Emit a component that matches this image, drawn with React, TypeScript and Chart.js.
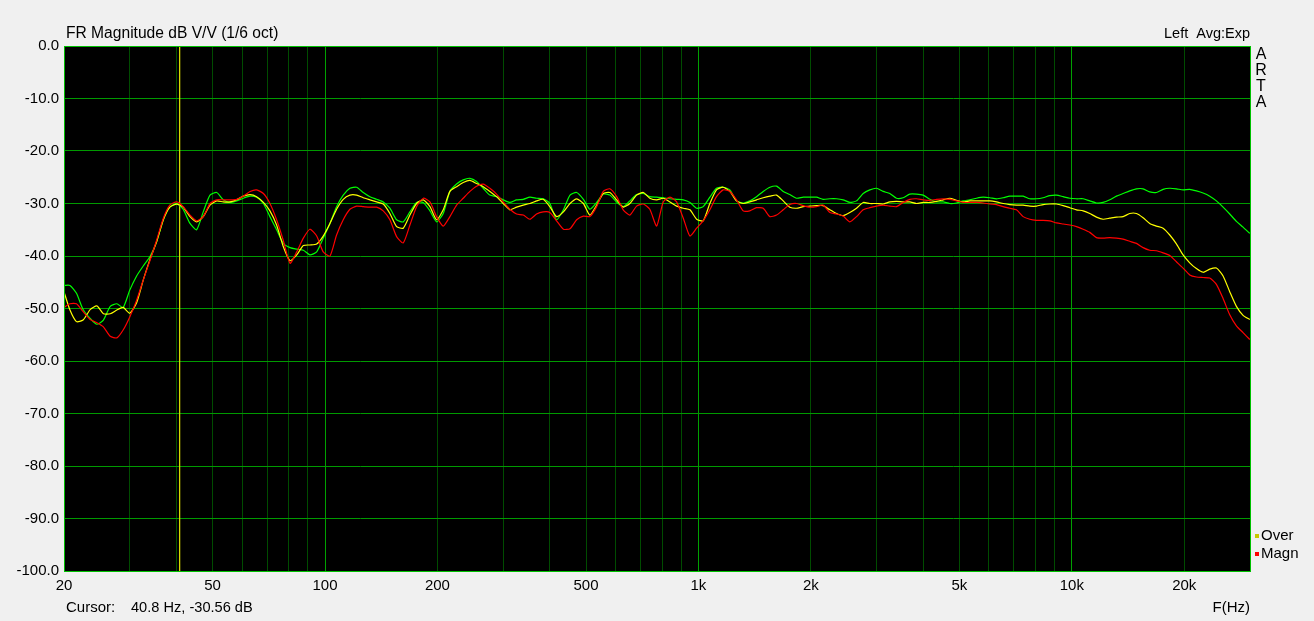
import React, { useEffect, useRef } from "react";
import { Chart, registerables } from "chart.js";

Chart.register(...registerables);

// Frequencies (Hz) shared by the three traces
const freqs = [
  20, 20.75, 21.6, 22.5, 23.5, 24.5, 25.5, 26.6, 27.7, 28.8, 30.0, 31.3, 32.6, 34.0, 35.4, 36.9, 38.4, 40.1,
  41.7, 43.5, 45.3, 47.2, 49.2, 51.3, 53.4, 55.7, 58.0, 60.4, 63.0, 65.6, 68.4, 71.2, 74.2, 77.3, 80.6, 84.0,
  87.5, 91.1, 95.0, 98.9, 103.1, 107.4, 111.9, 116.6, 121.5, 126.6, 131.9, 137.5, 143.2, 149.2, 155.5, 162.0,
  168.8, 175.9, 183.3, 191.0, 199.0, 207.3, 216.0, 225.1, 234.5, 244.4, 254.6, 265.3, 276.4, 288.0, 300.1,
  312.7, 325.8, 339.5, 353.7, 368.6,
  384, 400, 417, 435, 453, 472, 492, 512, 534, 556, 579, 604, 629, 655, 683, 712, 741, 773, 805, 839, 874,
  911, 949, 989, 1030, 1073, 1118, 1165, 1214, 1265, 1318, 1373, 1431, 1491, 1554, 1619,
  1687, 1757, 1831, 1908, 1988, 2071, 2158, 2249, 2343, 2441, 2544, 2651, 2762, 2878, 2998, 3124, 3255, 3392,
  3534, 3682, 3837, 3998, 4166, 4341, 4523, 4713, 4910, 5117, 5331, 5555, 5788, 6031, 6284, 6547, 6822, 7108,
  7406, 7717, 8040, 8378, 8729, 9096, 9476, 9875, 10290, 10722, 11170, 11640, 12128, 12638, 13166, 13720,
  14292, 14894, 15518, 16168, 16848, 17554, 18292, 19056, 19858, 20688, 21558, 22460, 23406, 24386, 25412,
  26476, 27588, 28744, 29954,
];

// Green trace (stored overlay)
const storedDb = [
  -45.6, -45.6, -47.1, -50.2, -51.9, -53.0, -52.2, -49.6, -49.1, -49.8, -46.5, -43.8, -41.9, -40.1, -37.3, -33.1, -30.7, -30.0,
  -31.1, -33.8, -35.0, -31.6, -28.4, -27.9, -29.3, -29.8, -29.5, -29.0, -28.6, -28.8, -30.0, -32.5, -35.0, -37.6, -38.4, -38.7,
  -38.9, -39.8, -39.2, -36.6, -33.8, -30.6, -28.4, -27.1, -26.9, -27.9, -28.7, -29.2, -29.7, -30.9, -33.1, -33.5,
  -31.6, -29.8, -29.8, -31.4, -33.5, -31.9, -27.7, -26.3, -25.5, -25.2, -25.8, -27.1, -28.4, -28.7, -29.3,
  -29.8, -29.3, -29.2, -28.8, -29.0,
  -29.1, -30.0, -33.1, -31.2, -28.4, -27.9, -29.2, -31.1, -29.8, -28.2, -28.4, -29.7, -30.6, -29.5, -28.3, -28.1, -28.7, -28.8, -28.9, -29.1, -29.2,
  -29.3, -29.8, -30.9, -30.6, -28.8, -27.1, -26.9, -27.4, -29.5, -29.9, -29.5, -28.7, -27.7, -26.9, -26.7,
  -27.7, -28.3, -29.0, -28.8, -28.8, -28.8, -29.2, -29.1, -29.1, -29.3, -29.8, -29.5, -28.1, -27.4, -27.1, -27.7, -28.1, -29.0,
  -28.9, -28.2, -28.2, -28.4, -29.2, -29.7, -29.7, -30.0, -29.9, -29.5, -29.3, -29.0, -28.8, -28.9, -29.1, -28.9, -28.6, -28.6,
  -28.6, -29.1, -29.1, -28.9, -28.5, -28.4, -28.7, -29.0, -29.1, -29.1, -29.5, -29.9, -29.8, -29.3, -28.6, -28.1,
  -27.6, -27.2, -27.2, -27.8, -27.9, -27.3, -27.1, -27.2, -27.4, -27.3, -27.6, -28.0, -28.6, -29.5, -30.7,
  -32.0, -33.4, -34.5, -35.7,
];

// Yellow trace ("Over")
const overDb = [
  -46.8, -50.3, -52.5, -52.2, -50.2, -49.5, -51.0, -51.0, -50.3, -49.8, -50.9, -48.9, -44.6, -40.6, -37.3, -33.1, -30.7, -30.1,
  -30.7, -32.5, -33.5, -32.5, -30.3, -29.5, -29.7, -29.7, -29.3, -28.6, -28.3, -28.7, -29.8, -31.4, -34.1, -38.2, -40.9, -39.8,
  -38.0, -37.9, -37.7, -36.2, -33.8, -31.1, -29.2, -28.4, -28.4, -28.9, -29.3, -29.7, -30.1, -31.9, -34.4, -34.7,
  -32.2, -30.0, -29.3, -30.6, -33.1, -31.2, -27.7, -26.8, -26.0, -25.6, -26.2, -26.8, -27.7, -28.7, -30.0,
  -31.2, -30.7, -30.3, -30.0, -29.5,
  -29.2, -30.6, -32.5, -31.6, -30.0, -29.1, -30.0, -32.2, -30.3, -28.1, -27.9, -29.3, -30.7, -30.0, -28.4, -27.9, -29.0, -29.3, -29.0, -29.7, -30.5,
  -30.9, -31.2, -33.0, -33.3, -30.0, -27.4, -26.9, -27.7, -29.5, -30.0, -29.7, -29.3, -28.9, -28.6, -28.4,
  -29.5, -30.7, -30.9, -30.6, -30.5, -30.4, -30.4, -31.2, -31.9, -32.3, -31.7, -30.9, -29.8, -30.0, -30.0, -30.1, -29.7, -29.6,
  -29.7, -29.7, -30.0, -29.8, -29.8, -29.6, -29.3, -29.0, -29.4, -29.7, -29.5, -29.5, -29.5, -29.5, -29.7, -30.0, -30.2, -30.3,
  -30.3, -30.5, -30.5, -30.2, -30.1, -30.1, -30.4, -30.8, -31.2, -31.4, -31.9, -32.6, -33.0, -32.8, -32.6, -32.5,
  -31.9, -31.9, -32.7, -33.8, -34.3, -34.7, -36.0, -37.7, -39.8, -41.3, -42.4, -43.1, -42.5, -42.3, -43.8,
  -46.8, -49.6, -51.3, -52.1,
];

// Red trace ("Magn")
const magnDb = [
  -49.8, -49.1, -49.1, -50.6, -52.1, -52.7, -53.5, -55.3, -55.6, -54.1, -51.6, -48.4, -44.6, -40.8, -37.0, -32.8, -30.3, -29.7,
  -30.6, -32.2, -33.3, -32.5, -30.0, -29.3, -29.3, -29.3, -29.2, -28.6, -27.7, -27.4, -28.1, -30.0, -33.1, -37.0, -41.4, -39.2,
  -36.6, -34.9, -36.2, -39.2, -40.0, -36.0, -33.1, -31.1, -30.5, -30.6, -30.7, -30.7, -31.4, -33.1, -36.3, -37.5,
  -34.1, -30.6, -29.0, -29.7, -32.5, -34.3, -32.5, -30.3, -29.0, -27.7, -26.7, -26.3, -27.1, -28.2, -29.7,
  -31.1, -32.0, -32.2, -33.0, -32.0,
  -31.6, -31.7, -33.3, -34.9, -34.8, -33.1, -32.4, -32.5, -30.6, -27.7, -27.2, -28.7, -31.2, -32.2, -30.5, -30.1, -31.1, -34.3, -29.7, -28.8, -29.7,
  -32.8, -36.2, -34.7, -33.3, -31.2, -28.7, -27.4, -27.7, -29.3, -31.4, -31.4, -30.8, -30.9, -32.5, -32.2,
  -31.2, -30.2, -30.0, -30.4, -30.7, -30.6, -30.3, -31.7, -32.0, -32.4, -33.5, -32.5, -31.2, -30.8, -30.5, -30.3, -30.5, -30.6,
  -29.8, -29.2, -29.1, -29.3, -29.4, -29.2, -29.1, -29.2, -29.5, -29.8, -29.8, -29.8, -29.9, -30.1, -30.2, -30.6, -30.9, -31.2,
  -32.5, -33.0, -33.2, -33.2, -33.3, -33.7, -33.9, -34.1, -34.4, -34.9, -35.5, -36.5, -36.6, -36.5, -36.6, -36.8,
  -37.2, -37.6, -38.4, -38.9, -39.0, -39.4, -39.9, -41.1, -42.3, -43.6, -44.0, -44.1, -44.2, -45.4, -48.1,
  -51.2, -53.3, -54.6, -55.9,
];

const gridFreqs = [
  20, 30, 40, 50, 60, 70, 80, 90, 100, 200, 300, 400, 500, 600, 700, 800, 900, 1000,
  2000, 3000, 4000, 5000, 6000, 7000, 8000, 9000, 10000, 20000, 30000,
];
const labeledFreqs = [20, 50, 100, 200, 500, 1000, 2000, 5000, 10000, 20000];
const majorFreqs = [100, 1000, 10000];
const xMin = 20;
const xMax = 30000;
const yMin = -100;
const yMax = 0;
const yStep = 10;
const cursorFreq = 40.8;
const cursorDb = -30.56;
const titleText = "FR Magnitude dB V/V (1/6 oct)";
const statusText = "Left  Avg:Exp";
const brandLetters = ["A", "R", "T", "A"];
const legendLabels = ["Over", "Magn"];
const legendColors = ["#c8c800", "#ff0000"];
const xAxisTitle = "F(Hz)";

const FONT = '"Liberation Sans", Arial, sans-serif';

const artaPlugin = {
  id: "artaDecor",
  beforeDraw(chart: any) {
    const { ctx, chartArea: a, width, height } = chart;
    ctx.save();
    ctx.fillStyle = "#f0f0f0";
    ctx.fillRect(0, 0, width, height);
    ctx.fillStyle = "#000000";
    ctx.fillRect(a.left, a.top, a.right - a.left, a.bottom - a.top);
    ctx.restore();
  },
  afterDraw(chart: any) {
    const { ctx, chartArea: a } = chart;
    ctx.save();
    ctx.strokeStyle = "#00c000";
    ctx.lineWidth = 1;
    ctx.strokeRect(a.left + 0.5, a.top + 0.5, a.right - a.left, a.bottom - a.top);

    ctx.fillStyle = "#000000";
    ctx.textBaseline = "middle";
    ctx.textAlign = "left";
    ctx.font = `15.6px ${FONT}`;
    ctx.fillText(titleText, a.left + 2, 34);
    ctx.font = `14.5px ${FONT}`;
    ctx.textAlign = "right";
    ctx.fillText(statusText, a.right, 34);

    ctx.font = `16px ${FONT}`;
    ctx.textAlign = "center";
    brandLetters.forEach((ch, i) => ctx.fillText(ch, a.right + 11, 55 + i * 16));

    ctx.font = `15px ${FONT}`;
    ctx.textAlign = "left";
    legendLabels.forEach((lab, i) => {
      const y = 536 + i * 18;
      ctx.fillStyle = legendColors[i];
      ctx.fillRect(a.right + 5, y - 2, 4, 4);
      ctx.fillStyle = "#000000";
      ctx.fillText(lab, a.right + 11, y);
    });

    ctx.textAlign = "right";
    ctx.fillText(xAxisTitle, a.right, 608);
    ctx.textAlign = "left";
    ctx.fillText("Cursor:", a.left + 2, 608);
    ctx.font = `14.6px ${FONT}`;
    ctx.fillText(`${cursorFreq} Hz, ${cursorDb.toFixed(2)} dB`, a.left + 67, 608);
    ctx.restore();
  },
};

function fmtFreq(v: number) {
  return v >= 1000 ? `${v / 1000}k` : `${v}`;
}

export default function App() {
  const ref = useRef<HTMLCanvasElement | null>(null);

  useEffect(() => {
    document.body.style.margin = "0";
    document.body.style.background = "#f0f0f0";
    const canvas = ref.current;
    if (!canvas) return;
    const mk = (ys: number[]) => freqs.map((f, i) => ({ x: f, y: ys[i] }));
    const chart = new Chart(canvas, {
      type: "line",
      data: {
        datasets: [
          {
            label: "Magn",
            data: mk(magnDb),
            borderColor: "#ff0000",
            borderWidth: 1.2,
            pointRadius: 0,
            tension: 0.2,
            order: 0,
          },
          {
            label: "Over",
            data: mk(overDb),
            borderColor: "#ffff00",
            borderWidth: 1.2,
            pointRadius: 0,
            tension: 0.2,
            order: 1,
          },
          {
            label: "Stored",
            data: mk(storedDb),
            borderColor: "#00ff00",
            borderWidth: 1.2,
            pointRadius: 0,
            tension: 0.2,
            order: 2,
          },
          {
            label: "Cursor",
            data: [
              { x: cursorFreq, y: yMax },
              { x: cursorFreq, y: yMin },
            ],
            borderColor: "#d8d800",
            borderWidth: 1,
            pointRadius: 0,
            order: 3,
          },
        ],
      },
      options: {
        responsive: false,
        animation: false,
        devicePixelRatio: 1,
        events: [],
        layout: { padding: { top: 46, right: 64, left: 0, bottom: 0 } },
        plugins: { legend: { display: false }, tooltip: { enabled: false } },
        scales: {
          x: {
            type: "logarithmic",
            min: xMin,
            max: xMax,
            afterBuildTicks: (scale: any) => {
              scale.ticks = gridFreqs.map((v) => ({ value: v }));
            },
            afterFit: (scale: any) => {
              scale.height = 50;
            },
            ticks: {
              autoSkip: false,
              maxRotation: 0,
              padding: 6,
              color: "#000000",
              font: { family: FONT, size: 15 },
              callback: (v: any) => (labeledFreqs.includes(Number(v)) ? fmtFreq(Number(v)) : ""),
            },
            grid: {
              drawTicks: false,
              lineWidth: 1,
              color: (c: any) =>
                c.tick && majorFreqs.includes(c.tick.value) ? "#00a000" : "#004c00",
            },
            border: { display: false },
          },
          y: {
            type: "linear",
            min: yMin,
            max: yMax,
            afterFit: (scale: any) => {
              scale.width = 64;
            },
            ticks: {
              stepSize: yStep,
              padding: 5,
              color: "#000000",
              font: { family: FONT, size: 15 },
              callback: (v: any) => Number(v).toFixed(1),
            },
            grid: { drawTicks: false, lineWidth: 1, color: "#009a00" },
            border: { display: false },
          },
        },
      },
      plugins: [artaPlugin],
    } as any);
    return () => chart.destroy();
  }, []);

  return (
    <div style={{ width: 1314, height: 621, background: "#f0f0f0" }}>
      <canvas ref={ref} width={1314} height={621} style={{ display: "block" }} />
    </div>
  );
}
